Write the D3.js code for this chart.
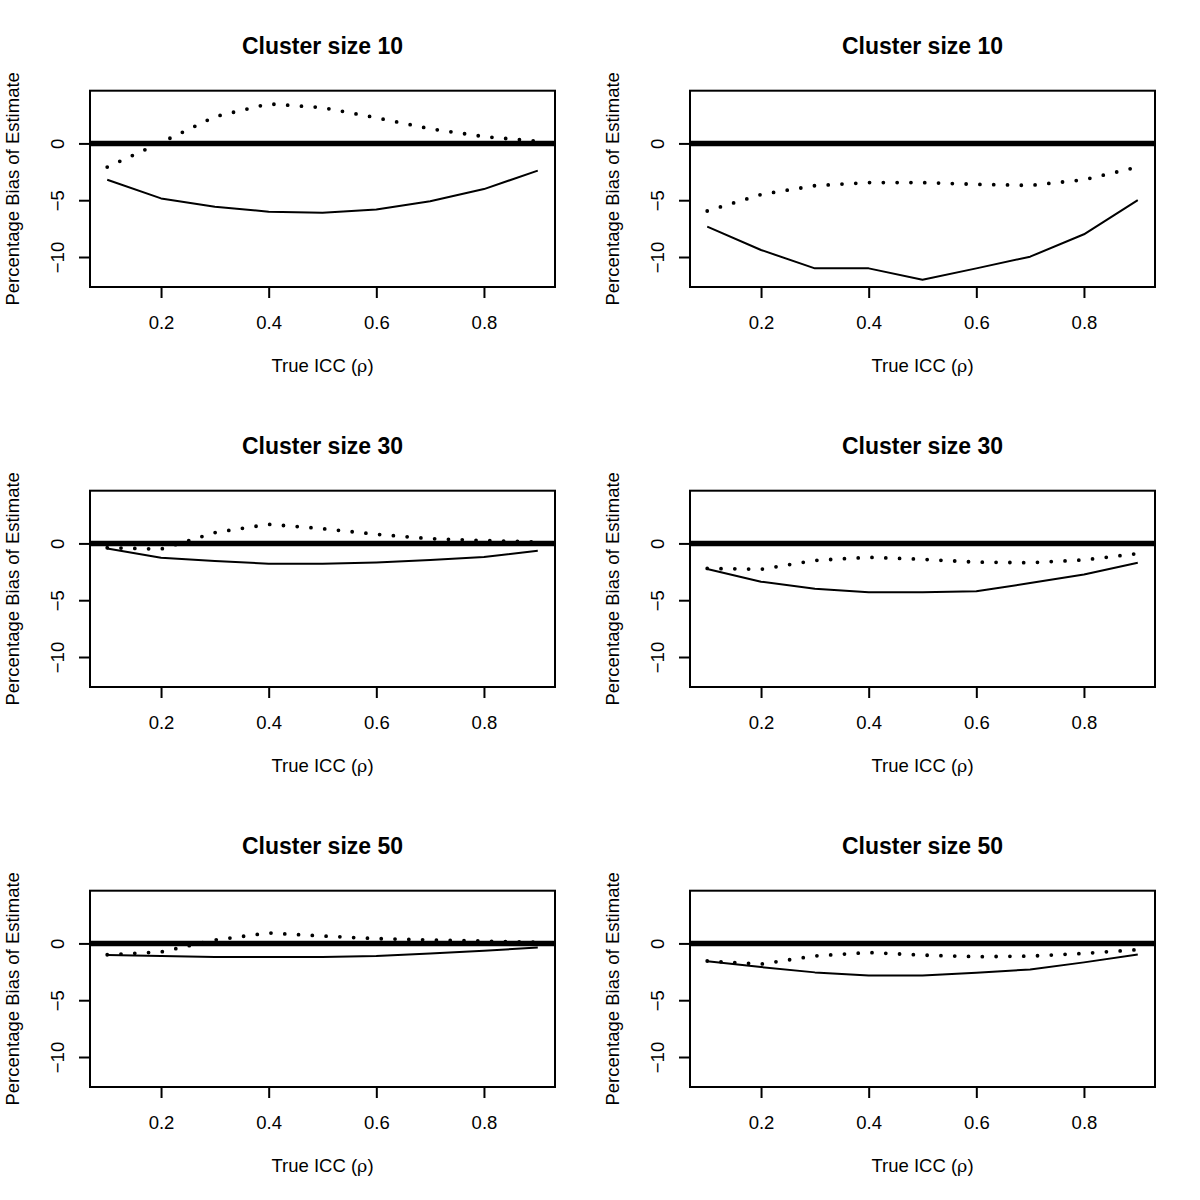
<!DOCTYPE html>
<html>
<head>
<meta charset="utf-8">
<script src="https://cdn.jsdelivr.net/npm/d3@7"></script>
<style>
  html, body { margin: 0; padding: 0; background: #fff; }
  svg { display: block; font-family: "Liberation Sans", Arial, Helvetica, sans-serif; }
</style>
</head>
<body>
<svg id="chart" width="1200" height="1200"></svg>
<script>
// ---- data ----
const panelTitles = ["Cluster size 10", "Cluster size 10", "Cluster size 30", "Cluster size 30", "Cluster size 50", "Cluster size 50"];
const icc = [0.1, 0.2, 0.3, 0.4, 0.5, 0.6, 0.7, 0.8, 0.9];
const xTicks = [0.2, 0.4, 0.6, 0.8];
const yTicks = [-10, -5, 0];
const xLim = [0.1, 0.9];
const yLim = [-12, 4];

const solid1 = [-3.2, -4.84, -5.57, -6.01, -6.1, -5.81, -5.1, -4.02, -2.4];
const dotted1 = [-2.08, 0.08, 2.35, 3.48, 3.15, 2.26, 1.29, 0.6, 0.18];
const solid2 = [-7.33, -9.38, -11.0, -11.0, -12.0, -11.0, -9.97, -8.0, -4.99];
const dotted2 = [-5.95, -4.5, -3.72, -3.45, -3.45, -3.6, -3.7, -3.2, -2.08];
const solid3 = [-0.44, -1.26, -1.55, -1.79, -1.79, -1.67, -1.47, -1.2, -0.65];
const dotted3 = [-0.38, -0.5, 0.95, 1.68, 1.3, 0.8, 0.42, 0.25, 0.12];
const solid4 = [-2.26, -3.37, -3.99, -4.31, -4.31, -4.22, -3.49, -2.73, -1.7];
const dotted4 = [-2.2, -2.28, -1.5, -1.22, -1.4, -1.65, -1.7, -1.45, -0.9];
const solid5 = [-1.03, -1.11, -1.2, -1.2, -1.2, -1.11, -0.88, -0.65, -0.35];
const dotted5 = [-1.0, -0.75, 0.3, 0.92, 0.65, 0.42, 0.3, 0.2, 0.1];
const solid6 = [-1.58, -2.08, -2.55, -2.82, -2.82, -2.58, -2.29, -1.67, -0.97];
const dotted6 = [-1.55, -1.82, -1.1, -0.8, -1.03, -1.17, -1.12, -0.88, -0.55];

const solidSeries = [solid1, solid2, solid3, solid4, solid5, solid6];
const dottedSeries = [dotted1, dotted2, dotted3, dotted4, dotted5, dotted6];

// ---- layout ----
const svg = d3.select("#chart");
const m = { left: 90, right: 45, top: 90.7, bottom: 113 };
const pw = 600 - m.left - m.right;
const ph = 400 - m.top - m.bottom;

function ext(lim) { const d = (lim[1] - lim[0]) * 0.04; return [lim[0] - d, lim[1] + d]; }

const x = d3.scaleLinear().domain(ext(xLim)).range([0, pw]);
const y = d3.scaleLinear().domain(ext(yLim)).range([ph, 0]);

panelTitles.forEach((title, i) => {
  const col = i % 2, row = Math.floor(i / 2);
  const g = svg.append("g")
    .attr("transform", `translate(${col * 600 + m.left},${row * 400 + m.top})`);

  const clipId = "clip" + i;
  g.append("clipPath").attr("id", clipId)
    .append("rect").attr("width", pw).attr("height", ph);

  const plot = g.append("g").attr("clip-path", `url(#${clipId})`);

  const line = d3.line().x((d, k) => x(icc[k])).y(d => y(d));

  // dotted series
  plot.append("path")
    .datum(dottedSeries[i])
    .attr("d", line)
    .attr("fill", "none")
    .attr("stroke", "#000")
    .attr("stroke-width", 3.8)
    .attr("stroke-linecap", "round")
    .attr("stroke-dasharray", "0 13.8");

  // solid series
  plot.append("path")
    .datum(solidSeries[i])
    .attr("d", line)
    .attr("fill", "none")
    .attr("stroke", "#000")
    .attr("stroke-width", 2)
    .attr("stroke-linejoin", "round");

  // thick reference line at 0
  plot.append("line")
    .attr("x1", 0).attr("x2", pw)
    .attr("y1", y(0)).attr("y2", y(0))
    .attr("stroke", "#000")
    .attr("stroke-width", 5.5);

  // box
  g.append("rect")
    .attr("width", pw).attr("height", ph)
    .attr("fill", "none").attr("stroke", "#000").attr("stroke-width", 2);

  // x axis
  const xa = g.append("g").attr("transform", `translate(0,${ph})`)
    .call(d3.axisBottom(x).tickValues(xTicks).tickSize(11).tickPadding(0).tickFormat(d3.format(".1f")));
  xa.select(".domain").remove();
  xa.selectAll(".tick line").attr("stroke-width", 2);
  xa.selectAll(".tick text")
    .attr("font-size", 18.5).attr("fill", "#000")
    .attr("font-family", '"Liberation Sans", Arial, sans-serif')
    .attr("dy", null).attr("y", 41.5);

  // y axis
  const ya = g.append("g")
    .call(d3.axisLeft(y).tickValues(yTicks).tickSize(11).tickFormat(d => d < 0 ? "\u2212" + Math.abs(d) : String(d)));
  ya.select(".domain").remove();
  ya.selectAll(".tick line").attr("stroke-width", 2);
  ya.selectAll(".tick text")
    .attr("font-size", 18.5).attr("fill", "#000")
    .attr("font-family", '"Liberation Sans", Arial, sans-serif')
    .attr("x", null).attr("dy", null)
    .attr("text-anchor", "middle")
    .attr("transform", "translate(-26.5,0) rotate(-90)");

  // title
  g.append("text")
    .attr("x", pw / 2).attr("y", 54 - m.top)
    .attr("text-anchor", "middle")
    .attr("font-weight", "bold")
    .attr("font-size", 23)
    .text(title);

  // x label
  const xl = g.append("text")
    .attr("x", pw / 2).attr("y", 372 - m.top)
    .attr("text-anchor", "middle")
    .attr("font-size", 18.5);
  xl.append("tspan").text("True ICC (");
  xl.append("tspan").attr("font-family", '"DejaVu Serif", "Liberation Serif", serif').attr("font-size", 17.5).text("\u03C1");
  xl.append("tspan").text(")");

  // y label
  g.append("text")
    .attr("transform", `translate(${18.5 - m.left},${ph / 2}) rotate(-90)`)
    .attr("text-anchor", "middle")
    .attr("font-size", 18.5)
    .text("Percentage Bias of Estimate");
});
</script>
</body>
</html>
